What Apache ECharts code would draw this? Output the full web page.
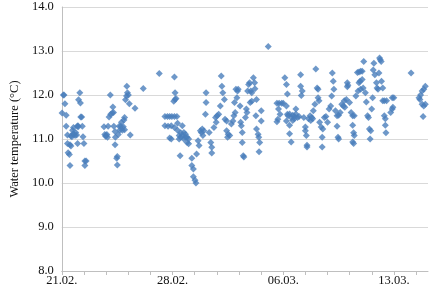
<!DOCTYPE html>
<html>
<head>
<meta charset="utf-8">
<script src="https://cdn.jsdelivr.net/npm/echarts@6/dist/echarts.min.js"></script>
<style>
  html, body { margin: 0; padding: 0; background: #fff; }
  #chart { width: 429px; height: 292px; }
</style>
</head>
<body>
<div id="chart"></div>
<script>
// x = days after 21.02., y = water temperature (°C)
const dateLabels = ['21.02.', '28.02.', '06.03.', '13.03.'];
const labelDays = [0, 7, 14, 21];

const run1 = [
    [0.02, 11.59], [0.10, 12.0], [0.14, 12.0], [0.20, 11.8], [0.28, 11.54], [0.28, 11.29], [0.36, 11.09],
    [0.36, 10.9], [0.40, 10.69], [0.48, 10.65], [0.52, 10.87], [0.58, 10.84], [0.52, 10.4], [0.58, 11.07],
    [0.64, 11.05], [0.68, 11.2], [0.72, 11.12], [0.74, 11.26], [0.76, 11.1], [0.84, 11.08], [0.88, 11.15],
    [0.94, 11.09], [0.98, 11.29], [1.00, 10.9], [1.02, 11.3], [1.04, 11.28], [1.06, 11.89], [1.14, 12.05],
    [1.18, 11.82], [1.20, 11.5], [1.26, 11.5], [1.30, 11.29], [1.34, 11.05], [1.40, 10.9], [1.46, 10.5],
    [1.54, 10.5], [1.46, 10.4]
];

const run2 = [
    [2.67, 11.28], [2.72, 11.1], [2.77, 11.06], [2.80, 11.08], [2.85, 11.1], [2.89, 11.04], [2.93, 11.29],
    [2.99, 11.5], [3.07, 12.0], [3.09, 11.56], [3.19, 11.59], [3.23, 11.73], [3.27, 11.6], [3.29, 11.29],
    [3.37, 10.87], [3.37, 11.17], [3.39, 11.04], [3.47, 10.56], [3.51, 10.6], [3.51, 10.41], [3.57, 11.1],
    [3.63, 11.29], [3.67, 11.2], [3.73, 11.29], [3.77, 11.38], [3.83, 11.2], [3.89, 11.28], [3.93, 11.43],
    [3.97, 11.49], [3.97, 11.21], [4.03, 11.89], [4.09, 11.98], [4.11, 12.2], [4.15, 12.05], [4.21, 12.0],
    [4.27, 11.8], [4.33, 11.09], [4.63, 11.7], [5.15, 12.15], [6.16, 12.49]
];

const run3 = [
    [6.52, 11.51], [6.68, 11.51], [6.82, 11.51], [6.96, 11.51], [7.12, 11.51], [7.28, 11.51],
    [7.12, 12.41], [7.16, 12.05], [7.08, 11.86], [7.16, 11.9], [7.22, 11.92], [7.32, 11.36],
    [6.52, 11.30], [6.72, 11.29], [6.92, 11.30], [7.12, 11.26], [6.82, 11.02], [6.92, 11.0],
    [7.32, 11.2], [7.62, 11.3], [7.42, 11.08], [7.52, 11.04], [7.62, 11.08], [7.72, 11.0], [7.82, 11.04],
    [7.92, 11.04], [8.02, 11.0], [7.52, 11.14], [7.72, 11.15], [7.42, 11.0], [7.82, 11.11],
    [7.92, 10.92], [8.02, 10.89], [7.48, 10.62], [8.22, 10.56], [8.22, 10.4], [8.32, 10.32],
    [8.32, 10.14], [8.42, 10.06], [8.48, 10.0], [8.52, 10.66], [8.62, 10.96], [8.68, 10.85],
    [8.76, 11.19], [8.82, 11.15], [8.88, 11.23], [8.92, 11.08], [8.98, 11.19],
    [9.12, 12.05], [9.12, 11.83], [9.08, 11.56], [9.32, 11.15], [9.42, 10.92], [9.48, 10.81], [9.48, 10.68],
    [9.62, 11.26], [9.72, 11.49], [9.82, 11.53], [9.76, 11.38], [9.92, 11.56], [10.02, 11.75],
    [10.08, 12.43], [10.12, 12.2], [10.18, 12.05], [10.28, 11.9], [10.32, 11.45], [10.42, 11.41],
    [10.42, 11.19], [10.52, 11.11], [10.62, 11.08], [10.48, 11.04], [10.72, 11.34], [10.82, 11.41],
    [10.88, 11.53], [10.96, 11.6], [10.92, 11.83], [11.01, 12.13], [11.11, 12.09], [11.15, 12.13],
    [11.07, 11.94], [11.27, 11.75], [11.31, 11.38], [11.35, 11.3], [11.41, 11.15], [11.41, 10.92],
    [11.47, 10.62], [11.51, 10.59], [11.61, 11.49], [11.67, 11.68], [11.71, 11.6],
    [11.75, 12.09], [11.81, 12.24], [11.87, 12.28], [11.95, 12.09], [12.01, 12.05], [11.91, 11.83],
    [12.01, 11.86], [12.11, 12.39], [12.19, 12.28], [12.21, 12.14], [12.31, 11.9], [12.27, 11.53],
    [12.31, 11.23], [12.41, 11.11], [12.45, 11.04], [12.51, 10.92], [12.47, 10.71],
    [12.61, 11.64], [12.61, 11.41], [13.05, 13.1],
    [13.60, 11.81], [13.74, 11.81], [13.90, 11.81], [14.00, 11.81], [13.70, 11.68], [13.80, 11.56],
    [13.66, 11.45], [13.60, 11.39], [14.10, 12.39], [14.20, 12.24], [14.26, 12.02], [14.20, 11.75],
    [14.26, 11.56], [14.20, 11.41]
];

const run4 = [
    [14.30, 11.53], [14.40, 11.57], [14.50, 11.49], [14.60, 11.54], [14.70, 11.51], [14.80, 11.57],
    [14.90, 11.49], [15.00, 11.51], [14.80, 11.68], [14.40, 11.31], [14.60, 11.42], [14.70, 11.46],
    [14.40, 11.12], [14.50, 10.93], [15.10, 12.46], [15.10, 12.2], [15.20, 12.09], [15.14, 11.99],
    [15.30, 11.49], [15.40, 11.27], [15.40, 11.19], [15.46, 11.08], [15.50, 10.86], [15.50, 10.82],
    [15.60, 11.46], [15.70, 11.53], [15.74, 11.42], [15.80, 11.49], [15.86, 11.46], [15.90, 11.64],
    [16.00, 11.79], [16.06, 12.59], [16.14, 12.16], [16.20, 12.13], [16.20, 11.94], [16.26, 11.87],
    [16.30, 11.38], [16.40, 11.27], [16.50, 11.23], [16.46, 11.04], [16.46, 10.82],
    [16.60, 11.49], [16.70, 11.51], [16.80, 11.38], [16.90, 11.68], [17.00, 11.75], [17.06, 11.98],
    [17.10, 12.5], [17.16, 12.31], [17.20, 12.13], [17.30, 11.64], [17.40, 11.53], [17.50, 11.54],
    [17.60, 11.6], [17.40, 11.29], [17.46, 11.04], [17.50, 11.0], [17.70, 11.79], [17.80, 11.75],
    [17.89, 11.72], [17.86, 11.87], [17.99, 11.9], [18.05, 12.28], [18.09, 12.22], [18.05, 12.19],
    [18.19, 11.83], [18.29, 11.6], [18.39, 11.53], [18.49, 11.53], [18.39, 11.31], [18.45, 11.14],
    [18.49, 11.08], [18.39, 10.93], [18.45, 10.9], [18.59, 11.98]
];

const run5 = [
    [18.69, 12.51], [18.79, 12.52], [18.89, 12.54], [18.99, 12.54], [18.79, 12.28], [18.85, 12.31],
    [18.99, 12.35], [18.73, 12.09], [18.89, 12.13], [19.05, 12.16], [19.09, 12.76], [19.19, 12.05],
    [19.25, 11.84], [19.33, 11.53], [19.39, 11.49], [19.45, 11.23], [19.53, 11.19], [19.49, 11.0],
    [19.59, 11.68], [19.65, 11.94], [19.69, 12.57], [19.73, 12.72], [19.79, 12.46], [19.89, 12.28],
    [19.93, 12.16], [19.99, 12.13], [20.05, 12.5], [20.09, 12.84], [20.13, 12.8], [20.19, 12.76],
    [20.21, 12.31], [20.29, 12.16], [20.29, 11.87], [20.39, 11.87], [20.53, 11.87], [20.39, 11.53],
    [20.45, 11.46], [20.45, 11.31], [20.49, 11.14], [20.79, 11.6], [20.89, 11.68], [20.93, 11.72],
    [20.99, 11.94], [20.89, 11.94], [22.08, 12.5], [22.58, 11.94], [22.64, 11.9], [22.68, 12.0],
    [22.78, 12.09], [22.88, 12.13], [22.98, 12.2], [22.78, 11.79], [22.88, 11.75], [22.98, 11.79],
    [22.84, 11.51]
];

const allPoints = run1.concat(run2, run3, run4, run5);

const font = "'Liberation Serif', 'Times New Roman', serif";

let chart = echarts.init(document.getElementById('chart'), null, {renderer: 'canvas'});
chart.setOption({
    animation: false,
    grid: {
        left: 41,
        top: 7,
        right: 1,
        bottom: 21
    },
    xAxis: {
        type: 'value',
        min: 0,
        max: 23.15,
        interval: 1.4,
        splitLine: {show: false},
        axisLine: {lineStyle: {color: '#bfbfbf', width: 1}},
        axisTick: {show: true, length: 4, lineStyle: {color: '#bfbfbf'}},
        axisLabel: {
            fontFamily: font,
            fontSize: 12.5,
            color: '#111',
            margin: 3,
            showMaxLabel: false,
            formatter: function (v) {
                for (let i = 0; i < labelDays.length; i++) {
                    if (Math.abs(v - labelDays[i]) < 0.01) return dateLabels[i];
                }
                return '';
            }
        }
    },
    yAxis: {
        type: 'value',
        min: 8,
        max: 14,
        interval: 1,
        name: 'Water temperature (\u00B0C)',
        nameLocation: 'middle',
        nameGap: 36,
        nameTextStyle: {fontFamily: font, fontSize: 12.5, color: '#111'},
        axisLine: {show: true, lineStyle: {color: '#bfbfbf'}},
        axisTick: {show: false},
        splitLine: {lineStyle: {color: '#d9d9d9', width: 1}},
        axisLabel: {
            fontFamily: font,
            fontSize: 12.5,
            color: '#111',
            margin: 8,
            formatter: function (v) {
                return v.toFixed(1);
            }
        }
    },
    series: [{
        type: 'scatter',
        symbol: 'diamond',
        symbolSize: 7,
        itemStyle: {color: '#4a7ebb'},
        data: allPoints
    }]
});
</script>
</body>
</html>
